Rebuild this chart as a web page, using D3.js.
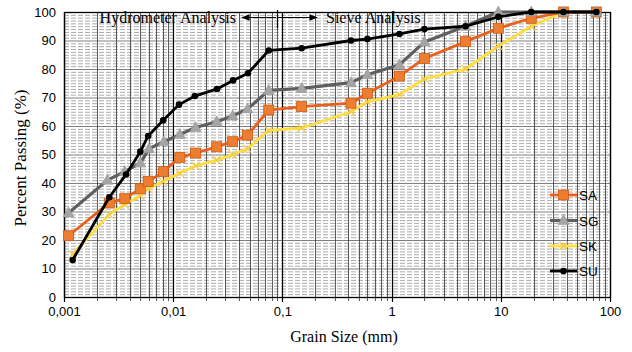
<!DOCTYPE html>
<html><head><meta charset="utf-8">
<script src="https://cdn.jsdelivr.net/npm/d3@7"></script>
<style>body{margin:0;background:#fff}svg{display:block}</style>
</head><body><svg id="c" width="632" height="352"></svg>
<script>
const seriesNames = ["SA","SG","SK","SU"];
const sizesSA = [0.0011,0.0026,0.0036,0.005,0.0059,0.0081,0.0115,0.016,0.025,0.035,0.048,0.075,0.15,0.425,0.6,1.18,2,4.75,9.5,19,37.5,75];
const valuesSA = [21.5,33,34.5,38,40.5,44,49,50.5,52.7,54.5,56.8,65.6,66.8,68,71.5,77.5,83.7,89.6,94.3,97.8,100,100];
const sizesSG = [0.0011,0.0025,0.0036,0.005,0.006,0.0082,0.0115,0.016,0.025,0.035,0.048,0.075,0.15,0.425,0.6,1.18,2,4.75,9.5,19,37.5,75];
const valuesSG = [29.5,41,44,47,52,54.5,57,59.5,61.5,63.5,66,72.5,73.2,75.2,78,81.5,89.5,95,100,100,100,100];
const sizesSK = [0.0012,0.0026,0.0036,0.005,0.0059,0.0081,0.0115,0.016,0.025,0.035,0.048,0.075,0.15,0.425,0.6,1.18,2,4.75,9.5,19,37.5,75];
const valuesSK = [15,29,32.5,35.5,38,40.5,43.5,46,48,50,52,58.5,59.3,65,68.5,71,76.5,80,88,95,100,100];
const sizesSU = [0.0012,0.0026,0.0037,0.005,0.0059,0.0081,0.0113,0.0158,0.0252,0.0353,0.0484,0.075,0.15,0.425,0.6,1.18,2,4.75,9.5,19,37.5,75];
const valuesSU = [13,35,43,51,56.5,62,67.5,70.5,73,76,78.5,86.5,87.3,90,90.5,92.3,94,95,98.3,100,100,100];
const xTickValues = [0.001,0.01,0.1,1,10,100];
const xTickLabels = ["0,001","0,01","0,1","1","10","100"];
const yTickValues = [0,10,20,30,40,50,60,70,80,90,100];
const boundarySize = 0.09;

const svg = d3.select("#c");
const L=64,R=610,T=12,B=297;
const x = d3.scaleLog().domain([0.001,100]).range([L,R]);
const y = d3.scaleLinear().domain([0,100]).range([B,T]);

// horizontal minor grid
const g = svg.append("g");
g.selectAll("line.hm").data(d3.range(1,100).filter(v=>v%10!==0)).join("line")
  .attr("x1",L).attr("x2",R).attr("y1",d=>y(d)+0.5).attr("y2",d=>y(d)+0.5)
  .attr("stroke","#aaaaaa").attr("stroke-width",1).attr("stroke-dasharray","5,2");
g.selectAll("line.hM").data(yTickValues.slice(1,-1)).join("line")
  .attr("x1",L).attr("x2",R).attr("y1",d=>y(d)+0.5).attr("y2",d=>y(d)+0.5)
  .attr("stroke","#808080").attr("stroke-width",1);
// vertical grid
const vmin=[];
for(let e=-3;e<2;e++) for(let m=2;m<=9;m++) vmin.push(m*Math.pow(10,e));
g.selectAll("line.vm").data(vmin).join("line")
  .attr("x1",d=>Math.round(x(d))+0.5).attr("x2",d=>Math.round(x(d))+0.5).attr("y1",T).attr("y2",B+4)
  .attr("stroke","#333").attr("stroke-width",0.8);
g.selectAll("line.vM").data(xTickValues).join("line")
  .attr("x1",d=>Math.round(x(d))+0.5).attr("x2",d=>Math.round(x(d))+0.5).attr("y1",T).attr("y2",B+5)
  .attr("stroke","#000").attr("stroke-width",1.2);
// frame
svg.append("rect").attr("x",L+0.5).attr("y",T+0.5).attr("width",R-L).attr("height",B-T)
  .attr("fill","none").attr("stroke","#000").attr("stroke-width",1.3);

// axes labels
const xa = d3.axisBottom(x).tickValues(xTickValues).tickFormat((d,i)=>xTickLabels[i]).tickSize(0).tickPadding(10);
svg.append("g").attr("transform",`translate(0,${B})`).call(xa)
  .call(s=>s.select(".domain").remove())
  .selectAll("text").attr("font-family","Liberation Sans, Arial").attr("font-size",13).attr("fill","#000");
const ya = d3.axisLeft(y).tickValues(yTickValues).tickSize(0).tickPadding(8);
svg.append("g").attr("transform",`translate(${L},0)`).call(ya)
  .call(s=>s.select(".domain").remove())
  .selectAll("text").attr("font-family","Liberation Sans, Arial").attr("font-size",13).attr("fill","#000");

svg.append("text").attr("x",344).attr("y",342).attr("text-anchor","middle")
  .attr("font-family","Liberation Serif, Times New Roman").attr("font-size",16).text("Grain Size (mm)");
svg.append("text").attr("transform","translate(26,158) rotate(-90)").attr("text-anchor","middle")
  .attr("font-family","Liberation Serif, Times New Roman").attr("font-size",17).text("Percent Passing (%)");

// hydrometer / sieve annotation
const bx = Math.round(x(boundarySize));
svg.append("text").attr("x",bx-41).attr("y",23).attr("text-anchor","end")
  .attr("font-family","Liberation Serif, Times New Roman").attr("font-size",16).text("Hydrometer Analysis");
svg.append("text").attr("x",bx+49).attr("y",23).attr("text-anchor","start")
  .attr("font-family","Liberation Serif, Times New Roman").attr("font-size",16).text("Sieve Analysis");
const defs = svg.append("defs");
defs.append("marker").attr("id","ah").attr("viewBox","0 0 10 10").attr("refX",9).attr("refY",5)
  .attr("markerWidth",7).attr("markerHeight",7).attr("orient","auto-start-reverse")
  .append("path").attr("d","M0,1 L10,5 L0,9 Z").attr("fill","#000");
svg.append("line").attr("x1",bx-35).attr("x2",bx-1).attr("y1",17.5).attr("y2",17.5).attr("stroke","#000").attr("stroke-width",1.2).attr("marker-start","url(#ah)");
svg.append("line").attr("x1",bx+1).attr("x2",bx+40).attr("y1",17.5).attr("y2",17.5).attr("stroke","#000").attr("stroke-width",1.2).attr("marker-end","url(#ah)");
svg.append("line").attr("x1",bx+0.5).attr("x2",bx+0.5).attr("y1",10).attr("y2",28).attr("stroke","#000").attr("stroke-width",1.2);

// series
const series = [
  {name:"SK", sizes:sizesSK, values:valuesSK, line:"#FFDD3C", w:2.8, marker:"x", mfill:"#F5C842"},
  {name:"SA", sizes:sizesSA, values:valuesSA, line:"#E8601C", w:2.8, marker:"square", mfill:"#ED7D31"},
  {name:"SG", sizes:sizesSG, values:valuesSG, line:"#5f5f5f", w:3.2, marker:"triangle", mfill:"#A5A5A5"},
  {name:"SU", sizes:sizesSU, values:valuesSU, line:"#000000", w:2.8, marker:"circle", mfill:"#000"}
];
const line = d3.line().x(d=>x(d[0])).y(d=>y(d[1]));
function drawMarker(sel, s, cx, cy){
  if(s.marker==="square") sel.append("rect").attr("x",cx-5).attr("y",cy-5).attr("width",10).attr("height",10).attr("fill",s.mfill).attr("stroke","#D05A10").attr("stroke-width",0.8);
  else if(s.marker==="triangle") sel.append("path").attr("d",`M${cx},${cy-6} L${cx+5.5},${cy+4} L${cx-5.5},${cy+4} Z`).attr("fill",s.mfill).attr("stroke","#999").attr("stroke-width",0.6);
  else if(s.marker==="circle") sel.append("circle").attr("cx",cx).attr("cy",cy).attr("r",3.3).attr("fill",s.mfill);
  else sel.append("path").attr("d",`M${cx-4},${cy-4} L${cx+4},${cy+4} M${cx-4},${cy+4} L${cx+4},${cy-4}`).attr("stroke",s.mfill).attr("stroke-width",1.1);
}
series.forEach(s=>{
  const pts = s.sizes.map((v,i)=>[v,s.values[i]]);
  const gg = svg.append("g");
  gg.append("path").datum(pts).attr("d",line).attr("fill","none").attr("stroke",s.line).attr("stroke-width",s.w).attr("stroke-linejoin","round");
  pts.forEach(p=>drawMarker(gg,s,x(p[0]),y(p[1])));
});

// legend
const legOrder = ["SA","SG","SK","SU"];
const legY = [195,220.5,246,271];
legOrder.forEach((n,i)=>{
  const s = series.find(q=>q.name===n);
  const lg = svg.append("g");
  lg.append("line").attr("x1",550).attr("x2",577).attr("y1",legY[i]).attr("y2",legY[i]).attr("stroke",s.line).attr("stroke-width",s.w);
  drawMarker(lg,s,563.5,legY[i]);
  lg.append("text").attr("x",579).attr("y",legY[i]+5).attr("font-family","Liberation Sans, Arial").attr("font-size",13.5).text(n);
});
</script></body></html>
